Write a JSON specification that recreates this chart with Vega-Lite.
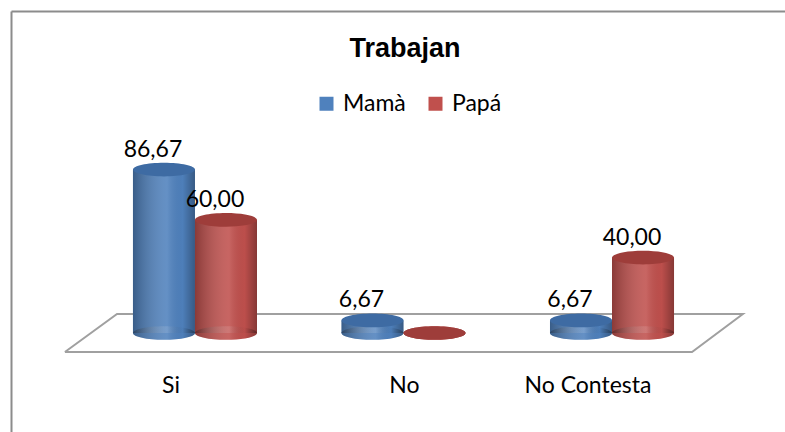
{
  "$schema": "https://vega.github.io/schema/vega-lite/v6.json",
  "width": 774,
  "height": 421,
  "autosize": {"type": "none"},
  "padding": {"left": 11, "top": 11, "right": 0, "bottom": 0},
  "background": "white",
  "config": {
    "font": "Lato",
    "view": {"stroke": null},
    "title": {"font": "Liberation Sans"},
    "locale": {"number": {"decimal": ",", "thousands": ".", "grouping": [3], "currency": ["", " €"]}}
  },
  "title": {
    "text": "Trabajan",
    "font": "Liberation Sans",
    "fontSize": 27,
    "fontWeight": "bold",
    "color": "black",
    "anchor": "middle",
    "frame": "group",
    "dx": 7,
    "offset": -52
  },
  "datasets": {
    "trabajan": [
      {"Categoria": "Si", "Serie": "Mamà", "Valor": 86.67},
      {"Categoria": "Si", "Serie": "Papá", "Valor": 60.0},
      {"Categoria": "No", "Serie": "Mamà", "Valor": 6.67},
      {"Categoria": "No", "Serie": "Papá", "Valor": 0.0},
      {"Categoria": "No Contesta", "Serie": "Mamà", "Valor": 6.67},
      {"Categoria": "No Contesta", "Serie": "Papá", "Valor": 40.0}
    ],
    "piso": [
      {"orden": 1, "u": -0.124, "v": -10.1},
      {"orden": 2, "u": 0.126, "v": 10.1},
      {"orden": 3, "u": 3.128, "v": 10.1},
      {"orden": 4, "u": 2.884, "v": -10.1},
      {"orden": 5, "u": -0.124, "v": -10.1}
    ]
  },
  "resolve": {"scale": {"x": "independent"}, "axis": {"x": "independent"}},
  "layer": [
    {
      "data": {"name": "piso"},
      "mark": {"type": "line", "stroke": "#A0A0A0", "strokeWidth": 2},
      "encoding": {
        "x": {
          "field": "u", "type": "quantitative",
          "scale": {"domain": [-0.3825, 3.33], "nice": false, "zero": false},
          "axis": {"orient": "top", "title": null, "labels": false, "ticks": false, "grid": false, "domain": true, "domainColor": "#8C8C8C", "domainWidth": 2}
        },
        "y": {
          "field": "v", "type": "quantitative",
          "scale": {"domain": [-52.5, 170.8], "nice": false, "zero": false},
          "axis": {"orient": "left", "title": null, "labels": false, "ticks": false, "grid": false, "domain": true, "domainColor": "#8C8C8C", "domainWidth": 2}
        },
        "order": {"field": "orden", "type": "quantitative"}
      }
    },
    {
      "data": {"name": "trabajan"},
      "encoding": {
        "x": {
          "field": "Categoria",
          "type": "nominal",
          "sort": ["Si", "No", "No Contesta"],
          "scale": {"paddingInner": 0, "paddingOuter": 0.356, "align": 0.537},
          "axis": {
            "title": null,
            "orient": "bottom",
            "offset": -47,
            "domain": false,
            "ticks": false,
            "grid": false,
            "labelAngle": 0,
            "labelPadding": 0,
            "labelBaseline": "middle",
            "labelFont": "Lato",
            "labelFontSize": 23,
            "labelColor": "black",
            "labelOffset": {"condition": {"test": "datum.value === 'No'", "value": 1}, "value": -24}
          }
        },
        "xOffset": {"field": "Serie", "type": "nominal", "sort": ["Mamà", "Papá"], "scale": {"paddingInner": 0, "paddingOuter": 0.681}},
        "y": {"field": "Valor", "type": "quantitative", "scale": {"domain": [-52.5, 170.8], "nice": false, "zero": false}}
      },
      "layer": [
        {
          "mark": {"type": "point", "shape": "M-1,0A1,0.22,0,1,0,1,0A1,0.22,0,1,0,-1,0Z", "size": 3844, "filled": true, "opacity": 1, "strokeWidth": 0},
          "encoding": {
            "y": {"datum": 0},
            "color": {
              "field": "Serie",
              "type": "nominal",
              "sort": ["Mamà", "Papá"],
              "scale": {"domain": ["Mamà", "Papá"], "range": ["#4F81BD", "#C0504D"]},
              "legend": {
                "title": null,
                "orient": "none",
                "legendX": 304,
                "legendY": 81,
                "direction": "horizontal",
                "symbolType": "square",
                "symbolSize": 196,
                "symbolStrokeWidth": 0,
                "labelFont": "Lato",
                "labelFontSize": 23,
                "labelColor": "black",
                "labelOffset": 5,
                "columnPadding": 18
              }
            }
          }
        },
        {
          "mark": {"type": "bar"},
          "encoding": {
            "y2": {"datum": 0},
            "color": {"field": "Serie", "type": "nominal", "sort": ["Mamà", "Papá"]}
          }
        },
        {
          "mark": {
            "type": "point", "shape": "M-1,0A1,0.22,0,1,0,1,0A1,0.22,0,1,0,-1,0Z", "size": 3844, "filled": true, "opacity": 1, "strokeWidth": 0,
            "fill": {"gradient": "linear", "x1": 0, "x2": 1, "y1": 0, "y2": 0, "stops": [
              {"offset": 0, "color": "rgba(0,0,0,0.28)"},
              {"offset": 0.55, "color": "rgba(255,255,255,0.12)"},
              {"offset": 0.8, "color": "rgba(0,0,0,0.02)"},
              {"offset": 1, "color": "rgba(0,0,0,0.3)"}
            ]}
          },
          "encoding": {"y": {"datum": 0}}
        },
        {
          "mark": {
            "type": "bar",
            "fill": {"gradient": "linear", "x1": 0, "x2": 1, "y1": 0, "y2": 0, "stops": [
              {"offset": 0, "color": "rgba(0,0,0,0.28)"},
              {"offset": 0.55, "color": "rgba(255,255,255,0.12)"},
              {"offset": 0.8, "color": "rgba(0,0,0,0.02)"},
              {"offset": 1, "color": "rgba(0,0,0,0.3)"}
            ]}
          },
          "encoding": {"y2": {"datum": 0}}
        },
        {
          "mark": {"type": "point", "shape": "M-1,0A1,0.22,0,1,0,1,0A1,0.22,0,1,0,-1,0Z", "size": 3844, "filled": true, "opacity": 1, "strokeWidth": 0},
          "encoding": {
            "fill": {"condition": {"test": "datum.Serie === 'Mamà'", "value": "#3E6BA3"}, "value": "#9E3D3A"}
          }
        },
        {
          "transform": [{"filter": "datum.Valor > 0"}],
          "mark": {"type": "text", "font": "Lato", "fontSize": 23, "color": "black", "align": "center", "baseline": "alphabetic", "dx": -11, "dy": -13},
          "encoding": {
            "text": {"field": "Valor", "type": "quantitative", "format": ".2f"}
          }
        }
      ]
    }
  ]
}
